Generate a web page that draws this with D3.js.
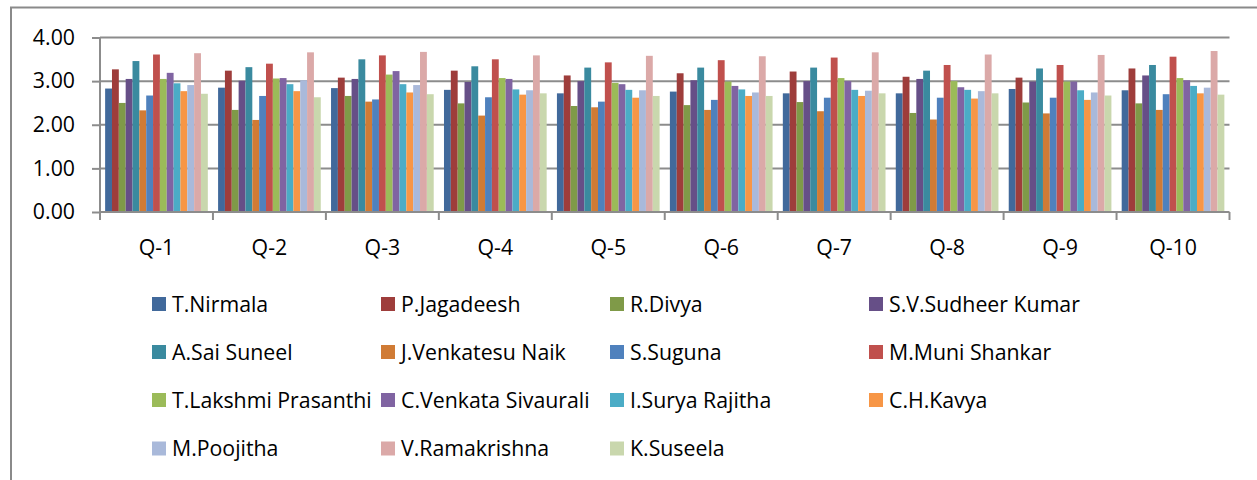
<!DOCTYPE html>
<html>
<head>
<meta charset="utf-8">
<script src="https://cdn.jsdelivr.net/npm/d3@7"></script>
<style>
  html, body { margin: 0; padding: 0; background: #ffffff; }
  svg { display: block; }
  text { font-family: "Open Sans", Lato, sans-serif; fill: #000; }
</style>
</head>
<body>
<svg id="chart" width="1257" height="480"></svg>
<script>
// Question labels along the x axis
const questions = ["Q-1", "Q-2", "Q-3", "Q-4", "Q-5", "Q-6", "Q-7", "Q-8", "Q-9", "Q-10"];

// Respondent names (one series each)
const names = [
  "T.Nirmala", "P.Jagadeesh", "R.Divya", "S.V.Sudheer Kumar",
  "A.Sai Suneel", "J.Venkatesu Naik", "S.Suguna", "M.Muni Shankar",
  "T.Lakshmi Prasanthi", "C.Venkata Sivaurali", "I.Surya Rajitha", "C.H.Kavya",
  "M.Poojitha", "V.Ramakrishna", "K.Suseela"
];

const seriesColors = [
  "#41699b", "#9e3d3b", "#7f9a48", "#664f87", "#3a8a9f", "#d07b35",
  "#4f81bd", "#c0504d", "#9bbb59", "#8064a2", "#4bacc6", "#f79646",
  "#a9b9da", "#dba9a8", "#c9d7ad"
];

// Mean score per question, one array per respondent (Q-1 .. Q-10)
const tNirmala       = [2.83, 2.85, 2.84, 2.80, 2.72, 2.76, 2.72, 2.72, 2.82, 2.79];
const pJagadeesh     = [3.27, 3.24, 3.08, 3.24, 3.13, 3.18, 3.22, 3.10, 3.08, 3.29];
const rDivya         = [2.50, 2.34, 2.66, 2.49, 2.43, 2.45, 2.52, 2.27, 2.51, 2.49];
const svSudheerKumar = [3.05, 3.01, 3.05, 2.98, 3.00, 3.02, 3.00, 3.05, 2.99, 3.13];
const aSaiSuneel     = [3.46, 3.32, 3.50, 3.34, 3.31, 3.31, 3.31, 3.24, 3.29, 3.37];
const jVenkatesuNaik = [2.33, 2.11, 2.53, 2.21, 2.40, 2.34, 2.31, 2.12, 2.26, 2.34];
const sSuguna        = [2.67, 2.66, 2.58, 2.63, 2.53, 2.57, 2.62, 2.62, 2.62, 2.70];
const mMuniShankar   = [3.61, 3.40, 3.59, 3.50, 3.43, 3.48, 3.54, 3.37, 3.37, 3.56];
const tLakshmi       = [3.05, 3.06, 3.15, 3.07, 2.96, 2.99, 3.07, 3.00, 2.99, 3.07];
const cVenkata       = [3.19, 3.07, 3.23, 3.05, 2.93, 2.89, 3.00, 2.86, 2.99, 3.02];
const iSuryaRajitha  = [2.95, 2.93, 2.93, 2.81, 2.80, 2.81, 2.80, 2.80, 2.79, 2.89];
const chKavya        = [2.77, 2.77, 2.74, 2.69, 2.62, 2.66, 2.66, 2.60, 2.57, 2.72];
const mPoojitha      = [2.91, 3.02, 2.91, 2.79, 2.79, 2.74, 2.78, 2.77, 2.74, 2.85];
const vRamakrishna   = [3.64, 3.66, 3.67, 3.59, 3.58, 3.57, 3.66, 3.61, 3.60, 3.69];
const kSuseela       = [2.71, 2.63, 2.70, 2.72, 2.66, 2.66, 2.72, 2.72, 2.67, 2.69];

const seriesValues = [
  tNirmala, pJagadeesh, rDivya, svSudheerKumar, aSaiSuneel, jVenkatesuNaik,
  sSuguna, mMuniShankar, tLakshmi, cVenkata, iSuryaRajitha, chKavya,
  mPoojitha, vRamakrishna, kSuseela
];

const yTicks = [0, 1, 2, 3, 4];

const svg = d3.select("#chart");
const gridColor = "#8c8c8c";
const fontSize = 21.3;

// Chart-area frame (top and left edges inside the window)
svg.append("path")
  .attr("d", "M11,484 L11,7.5 L1262,7.5")
  .attr("fill", "none")
  .attr("stroke", "#8a8a8a")
  .attr("stroke-width", 2);

const plot = { left: 100, right: 1229.5, top: 37.5, bottom: 212 };

const x0 = d3.scaleBand()
  .domain(questions)
  .range([plot.left, plot.right])
  .paddingInner(0)
  .paddingOuter(0);

const x1 = d3.scaleBand()
  .domain(names)
  .range([0, x0.bandwidth()])
  .paddingInner(0)
  .paddingOuter(0.75);

const y = d3.scaleLinear()
  .domain([0, 4])
  .range([plot.bottom, plot.top]);

const color = d3.scaleOrdinal().domain(names).range(seriesColors);

// Horizontal gridlines
svg.append("g")
  .selectAll("line")
  .data(yTicks.filter(t => t > 0))
  .join("line")
  .attr("x1", plot.left)
  .attr("x2", plot.right)
  .attr("y1", d => y(d))
  .attr("y2", d => y(d))
  .attr("stroke", gridColor)
  .attr("stroke-width", 2);

// Bars, grouped by question
const groups = svg.append("g")
  .selectAll("g")
  .data(questions)
  .join("g")
  .attr("transform", d => `translate(${x0(d)},0)`);

groups.selectAll("rect")
  .data((q, qi) => names.map((n, si) => ({ name: n, value: seriesValues[si][qi] })))
  .join("rect")
  .attr("x", d => x1(d.name))
  .attr("width", x1.bandwidth())
  .attr("y", d => y(d.value))
  .attr("height", d => y(0) - y(d.value))
  .attr("fill", d => color(d.name));

// Y axis
const yAxis = d3.axisLeft(y)
  .tickValues(yTicks)
  .tickFormat(d3.format(".2f"))
  .tickSize(8)
  .tickPadding(17);

const yg = svg.append("g")
  .attr("transform", `translate(${plot.left},0)`)
  .call(yAxis);
yg.select(".domain").remove();
yg.selectAll(".tick line").attr("stroke", gridColor).attr("stroke-width", 2);
yg.selectAll(".tick text")
  .attr("font-size", fontSize)
  .attr("font-family", "'Open Sans', Lato, sans-serif")
  .attr("fill", "#000");
yg.append("line")
  .attr("x1", 0).attr("x2", 0)
  .attr("y1", plot.top).attr("y2", plot.bottom + 8)
  .attr("stroke", gridColor).attr("stroke-width", 2);

// X axis (ticks at category boundaries)
const xg = svg.append("g");
xg.append("line")
  .attr("x1", plot.left).attr("x2", plot.right)
  .attr("y1", plot.bottom).attr("y2", plot.bottom)
  .attr("stroke", gridColor).attr("stroke-width", 2);
const boundaries = questions.map(q => x0(q)).concat([plot.right]);
xg.selectAll("line.tick")
  .data(boundaries)
  .join("line")
  .attr("class", "tick")
  .attr("x1", d => d).attr("x2", d => d)
  .attr("y1", plot.bottom).attr("y2", plot.bottom + 8)
  .attr("stroke", gridColor).attr("stroke-width", 2);
xg.selectAll("text")
  .data(questions)
  .join("text")
  .attr("x", d => x0(d) + x0.bandwidth() / 2)
  .attr("y", 255)
  .attr("text-anchor", "middle")
  .attr("font-size", fontSize)
  .text(d => d);

// Legend: four columns, four rows
const legendCols = [152, 381, 610, 869];
const legendRowY = [304, 352, 400, 448.5];
const legend = svg.append("g")
  .selectAll("g")
  .data(names)
  .join("g")
  .attr("transform", (d, i) => `translate(${legendCols[i % 4]},${legendRowY[Math.floor(i / 4)]})`);

legend.append("rect")
  .attr("x", 0).attr("y", -7)
  .attr("width", 14).attr("height", 14)
  .attr("fill", d => color(d));

legend.append("text")
  .attr("x", 20)
  .attr("y", 0)
  .attr("dy", "0.36em")
  .attr("font-size", fontSize)
  .text(d => d);
</script>
</body>
</html>
